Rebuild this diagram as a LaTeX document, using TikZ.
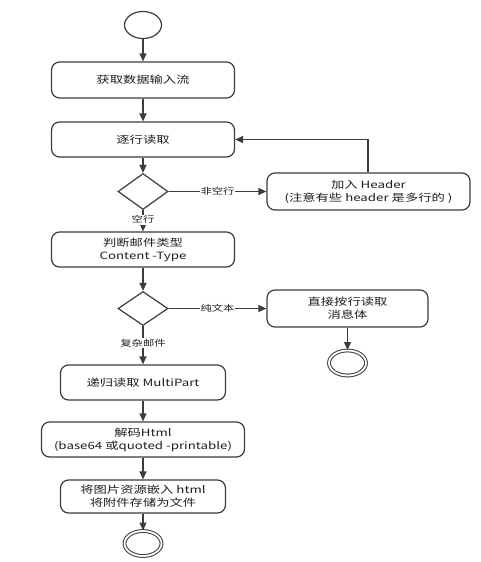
\documentclass[tikz,border=0pt]{standalone}
\usepackage{fontspec}
\setmainfont[FakeStretch=1.33]{Noto Sans CJK SC}
\usetikzlibrary{shapes.geometric,arrows.meta}
\definecolor{linec}{HTML}{3C3C3C}
\definecolor{txtc}{HTML}{1E1E1E}
\begin{document}
\begin{tikzpicture}[x=1pt,y=-1pt,
  every node/.style={text=txtc},
  actbox/.style={draw=linec, line width=1.2pt, rounded corners=8pt, align=center,
    inner sep=0pt, font=\fontsize{10}{13}\selectfont},
  decide/.style={draw=linec, line width=1.2pt, shape=diamond, inner sep=0pt,
    minimum width=50pt, minimum height=36pt},
  startst/.style={draw=linec, line width=1.2pt, ellipse, inner sep=0pt,
    minimum width=37pt, minimum height=27pt},
  endst/.style={draw=linec, line width=1pt, double=white, double distance=1.8pt, ellipse, inner sep=0pt,
    minimum width=37pt, minimum height=25pt},
  flow/.style={draw=linec, line width=1.2pt, -{Triangle[length=8pt,width=7pt]}},
  lbl/.style={fill=white, inner sep=1pt, font=\fontsize{8.5}{10}\selectfont}]
\useasboundingbox (0,0) rectangle (480,562);

\node[startst] (start) at (143,25) {};
\node[actbox, minimum width=183pt, minimum height=36pt] (getin) at (143,80) {获取数据输入流};
\node[actbox, minimum width=183pt, minimum height=35pt] (readln) at (143,139.5) {逐行读取};
\node[decide] (d1) at (143,191.5) {};
\node[actbox, minimum width=203pt, minimum height=37pt] (hdr) at (368.5,191.5) {加入 Header\\(注意有些 header 是多行的 )};
\node[actbox, minimum width=183pt, minimum height=35pt] (ctype) at (143,249.5) {判断邮件类型\\Content -Type};
\node[decide, minimum height=34pt] (d2) at (143,308.5) {};
\node[actbox, minimum width=161pt, minimum height=37pt] (plain) at (347.5,308.5) {直接按行读取\\消息体};
\node[endst] (end1) at (347.5,363) {};
\node[actbox, minimum width=165pt, minimum height=35pt] (multi) at (143,382.5) {递归读取 MultiPart};
\node[actbox, minimum width=203pt, minimum height=35pt] (dec) at (143,439.5) {解码Html\\(base64 或quoted -printable)};
\node[actbox, minimum width=165pt, minimum height=33pt] (embed) at (143,496.5) {将图片资源嵌入 html\\将附件存储为文件};
\node[endst] (end2) at (143,543.5) {};

\coordinate (loopc) at (368,139.5);

\draw[flow] (start) -- (getin);
\draw[flow] (getin) -- (readln);
\draw[flow] (readln) -- (d1);
\draw[flow] (d1) -- node[lbl] {非空行} (hdr);
\draw[flow] (hdr.north -| loopc) -- (loopc) -- (readln.east);
\draw[flow] (d1) -- node[lbl, pos=0.45] {空行} (ctype);
\draw[flow] (ctype) -- (d2);
\draw[flow] (d2) -- node[lbl] {纯文本} (plain);
\draw[flow] (plain) -- (end1);
\draw[flow] (d2) -- node[lbl, pos=0.45] {复杂邮件} (multi);
\draw[flow] (multi) -- (dec);
\draw[flow] (dec) -- (embed);
\draw[flow] (embed) -- (end2);
\end{tikzpicture}
\end{document}
